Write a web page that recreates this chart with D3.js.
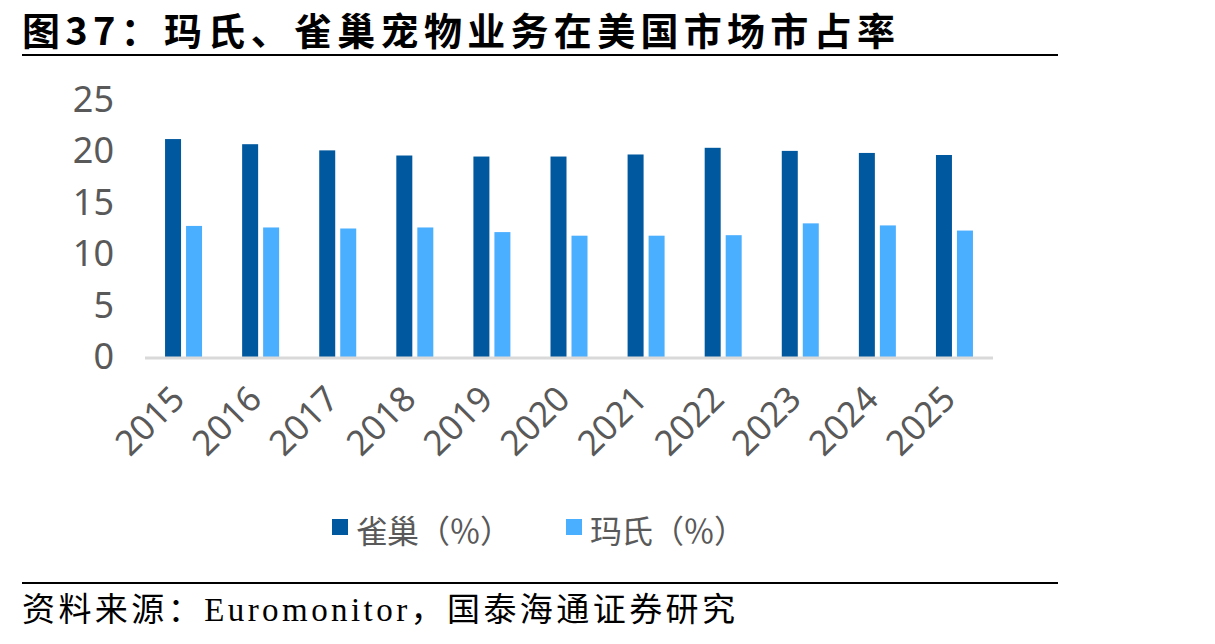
<!DOCTYPE html>
<html>
<head>
<meta charset="utf-8">
<script src="https://cdn.jsdelivr.net/npm/d3@7"></script>
<style>
  body { margin: 0; background: #fff; }
</style>
</head>
<body>
<div id="container"></div>
<script>
// data
let years = ["2015","2016","2017","2018","2019","2020","2021","2022","2023","2024","2025"];
let nestle = [21.2, 20.7, 20.1, 19.6, 19.5, 19.5, 19.7, 20.35, 20.05, 19.85, 19.65];
let mars = [12.75, 12.6, 12.5, 12.6, 12.15, 11.8, 11.8, 11.85, 13.0, 12.8, 12.3];
let seriesNames = ["雀巢（％）", "玛氏（％）"];
let yTicks = [0, 5, 10, 15, 20, 25];

let w = 1215;
let h = 644;
let colors = ["#00589E", "#4BAFFF"];

let svg = d3.select("#container")
  .append("svg")
    .attr("width", w)
    .attr("height", h)
;

// title + rule
svg.append("text")
  .attr("x", 22).attr("y", 45)
  .attr("font-family", "'Noto Sans CJK SC', sans-serif")
  .attr("font-weight", "bold")
  .attr("font-size", 38)
  .attr("textLength", 873)
  .attr("fill", "#000")
  .text("图37：玛氏、雀巢宠物业务在美国市场市占率");
svg.append("line")
  .attr("x1", 22).attr("x2", 1058).attr("y1", 55).attr("y2", 55)
  .attr("stroke", "#000").attr("stroke-width", 2);

// footer
svg.append("line")
  .attr("x1", 22).attr("x2", 1058).attr("y1", 583).attr("y2", 583)
  .attr("stroke", "#000").attr("stroke-width", 2);
svg.append("text")
  .attr("x", 22).attr("y", 621)
  .attr("font-family", "'Liberation Serif', 'Noto Sans CJK SC', serif")
  .attr("font-size", 33)
  .attr("textLength", 713)
  .attr("fill", "#000")
  .text("资料来源：Euromonitor，国泰海通证券研究");

// scales
let plotLeft = 145, plotRight = 993, plotTop = 100, plotBottom = 357;
let xScale = d3.scaleBand().domain(years).range([plotLeft, plotRight]).paddingInner(0).paddingOuter(0);
let yScale = d3.scaleLinear().domain([0, 25]).range([plotBottom, plotTop]);

let barW = 16, gap = 5;
let offset = (xScale.bandwidth() - (barW * 2 + gap)) / 2;

// y axis labels (no line)
let yAxis = d3.axisLeft(yScale).tickValues(yTicks).tickSize(0).tickPadding(0);
let yAxisGroup = svg.append("g").attr("transform", "translate(114,0)").call(yAxis);
yAxisGroup.select(".domain").remove();
yAxisGroup.selectAll("text")
  .attr("font-family", "'Noto Sans', 'DejaVu Sans', sans-serif")
  .attr("font-size", 36)
  .attr("fill", "#595959");

// bars
let groups = svg.append("g").selectAll(".datapoint").data(years).enter()
  .append("g").classed("datapoint", true)
  .attr("transform", function(d){ return "translate(" + xScale(d) + ",0)"; });

groups.append("rect")
  .attr("x", offset)
  .attr("width", barW)
  .attr("y", function(d, i){ return yScale(nestle[i]); })
  .attr("height", function(d, i){ return plotBottom - yScale(nestle[i]); })
  .attr("fill", colors[0]);

groups.append("rect")
  .attr("x", offset + barW + gap)
  .attr("width", barW)
  .attr("y", function(d, i){ return yScale(mars[i]); })
  .attr("height", function(d, i){ return plotBottom - yScale(mars[i]); })
  .attr("fill", colors[1]);

// baseline
svg.append("line")
  .attr("x1", plotLeft).attr("x2", plotRight).attr("y1", plotBottom + 1).attr("y2", plotBottom + 1)
  .attr("stroke", "#D9D9D9").attr("stroke-width", 3);

// x axis, labels rotated -45
let xAxis = d3.axisBottom(xScale).tickSize(0).tickPadding(0);
let xAxisGroup = svg.append("g").attr("transform", "translate(0," + plotBottom + ")").call(xAxis);
xAxisGroup.select(".domain").remove();
xAxisGroup.selectAll("text")
  .attr("font-family", "'Noto Sans', 'DejaVu Sans', sans-serif")
  .attr("font-size", 35)
  .attr("fill", "#595959")
  .attr("text-anchor", "end")
  .attr("dy", 0)
  .attr("transform", "translate(3,44) rotate(-45)");

// legend
let legendItems = [{x: 332, name: seriesNames[0], c: colors[0]}, {x: 566, name: seriesNames[1], c: colors[1]}];
let legend = svg.append("g").selectAll(".leg").data(legendItems).enter().append("g").classed("leg", true);
legend.append("rect")
  .attr("x", d => d.x).attr("y", 519)
  .attr("width", 16).attr("height", 16)
  .attr("fill", d => d.c);
legend.append("text")
  .attr("x", d => d.x + 24).attr("y", 543)
  .attr("font-family", "'Noto Sans CJK SC', sans-serif")
  .attr("font-size", 32)
  .attr("textLength", 156)
  .attr("fill", "#595959")
  .text(d => d.name);
</script>
</body>
</html>
